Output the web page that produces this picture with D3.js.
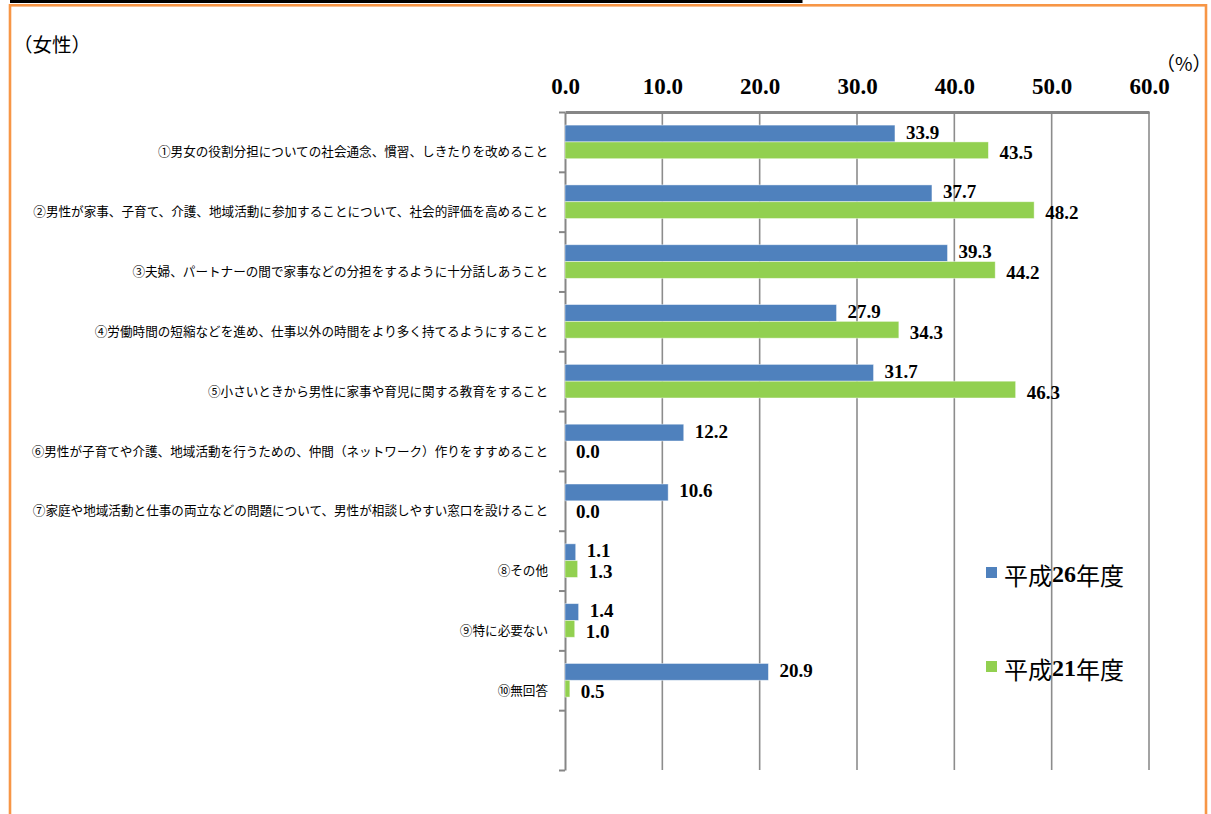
<!DOCTYPE html>
<html>
<head>
<meta charset="utf-8">
<script src="https://cdn.jsdelivr.net/npm/d3@7"></script>
<style>
  body { margin: 0; background: #fff; }
  svg { display: block; }
</style>
</head>
<body>
<svg id="main-svg" width="1211" height="814"></svg>
<script>
// categories (top to bottom); the last slot is left empty like the original
const categories = [
    '①男女の役割分担についての社会通念、慣習、しきたりを改めること',
    '②男性が家事、子育て、介護、地域活動に参加することについて、社会的評価を高めること',
    '③夫婦、パートナーの間で家事などの分担をするように十分話しあうこと',
    '④労働時間の短縮などを進め、仕事以外の時間をより多く持てるようにすること',
    '⑤小さいときから男性に家事や育児に関する教育をすること',
    '⑥男性が子育てや介護、地域活動を行うための、仲間（ネットワーク）作りをすすめること',
    '⑦家庭や地域活動と仕事の両立などの問題について、男性が相談しやすい窓口を設けること',
    '⑧その他',
    '⑨特に必要ない',
    '⑩無回答',
    ''
];

const seriesNames = ['平成26年度', '平成21年度'];
const h26 = [33.9, 37.7, 39.3, 27.9, 31.7, 12.2, 10.6, 1.1, 1.4, 20.9];
const h21 = [43.5, 48.2, 44.2, 34.3, 46.3, 0.0, 0.0, 1.3, 1.0, 0.5];
const xTicks = [0, 10, 20, 30, 40, 50, 60];

const colors = ['#4F81BD', '#92D050'];
const serif = '"Liberation Serif", "DejaVu Serif", serif';
const cjk = '"Noto Sans CJK JP", "Noto Sans", sans-serif';

const svg = d3.select('#main-svg');

// frame: black box edge at the top, orange border around the chart
svg.append('path')
    .attr('d', 'M10,1.5 H801 V-2')
    .attr('fill', 'none')
    .attr('stroke', '#000')
    .attr('stroke-width', 3);
svg.append('rect')
    .attr('x', 10).attr('y', 5.3)
    .attr('width', 1196).attr('height', 900)
    .attr('fill', 'none')
    .attr('stroke', '#F79646')
    .attr('stroke-width', 2.6);

// title and unit
svg.append('text')
    .attr('x', 13).attr('y', 43)
    .attr('dominant-baseline', 'central')
    .style('font-family', cjk).style('font-size', '19.5px')
    .text('（女性）');
svg.append('text')
    .attr('x', 1156).attr('y', 62)
    .attr('dominant-baseline', 'central')
    .style('font-family', cjk).style('font-size', '19px')
    .text('（%）');

// scales
const x = d3.scaleLinear().domain([0, 60]).range([565, 1149]);
const y = d3.scaleBand().domain(d3.range(categories.length)).range([112, 770]).padding(0);
const yLin = d3.scaleLinear().domain([0, categories.length]).range([112, 770]);
const ySub = d3.scaleBand().domain([0, 1]).range([0, y.bandwidth()]).paddingInner(0).paddingOuter(0.78);

// gridlines
svg.append('g')
    .selectAll('line')
    .data(xTicks.slice(1))
    .enter()
    .append('line')
    .attr('x1', d => x(d)).attr('x2', d => x(d))
    .attr('y1', 112).attr('y2', 770)
    .attr('stroke', '#8c8c8c')
    .attr('stroke-width', 1.6);

// top value axis
const xAxis = svg.append('g')
    .attr('transform', 'translate(0,112)')
    .call(d3.axisTop(x).tickValues(xTicks).tickFormat(d3.format('.1f')).tickSize(0).tickPadding(18));
xAxis.select('.domain').attr('stroke', '#868686').attr('stroke-width', 2.8);
xAxis.selectAll('text')
    .style('font-family', serif).style('font-size', '23px').style('font-weight', 'bold')
    .attr('fill', '#000');

// left category axis (ticks at band boundaries)
const yAxis = svg.append('g')
    .attr('transform', 'translate(565,0)')
    .call(d3.axisLeft(yLin).tickValues(d3.range(categories.length + 1)).tickFormat('').tickSize(6).tickSizeOuter(0));
yAxis.select('.domain').attr('stroke', '#868686').attr('stroke-width', 2);
yAxis.selectAll('.tick line').attr('stroke', '#868686').attr('stroke-width', 2);

// category labels
svg.append('g')
    .selectAll('text')
    .data(categories)
    .enter()
    .append('text')
    .attr('x', 548)
    .attr('y', (d, i) => y(i) + y.bandwidth() / 2 + 9)
    .attr('text-anchor', 'end')
    .attr('dominant-baseline', 'central')
    .style('font-family', cjk).style('font-size', '12.6px')
    .text(d => d);

// bars
const series = [h26, h21];
series.forEach((vals, s) => {
    const g = svg.append('g');
    g.selectAll('rect')
        .data(vals)
        .enter()
        .append('rect')
        .attr('x', x(0))
        .attr('y', (d, i) => y(i) + ySub(s))
        .attr('width', d => x(d) - x(0))
        .attr('height', ySub.bandwidth())
        .attr('fill', colors[s])
        .attr('stroke', '#ffffff')
        .attr('stroke-opacity', 0.55)
        .attr('stroke-width', 0.8);
    g.selectAll('text')
        .data(vals)
        .enter()
        .append('text')
        .attr('x', d => x(d) + 11)
        .attr('y', (d, i) => y(i) + ySub(s) + ySub.bandwidth() / 2 + (s === 1 ? 2.5 : -1.5))
        .attr('dominant-baseline', 'central')
        .style('font-family', serif).style('font-size', '19px').style('font-weight', 'bold')
        .text(d => d.toFixed(1));
});

// legend
const legend = svg.append('g')
    .selectAll('g')
    .data(seriesNames)
    .enter()
    .append('g')
    .attr('transform', (d, i) => `translate(986,${567 + i * 94})`);
legend.append('rect')
    .attr('width', 11).attr('height', 11)
    .attr('fill', (d, i) => colors[i]);
const lt = legend.append('text')
    .attr('x', 18).attr('y', 6.5)
    .attr('dominant-baseline', 'central')
    .style('font-size', '24px');
lt.selectAll('tspan')
    .data(d => d.split(/(\d+)/).filter(p => p.length))
    .enter()
    .append('tspan')
    .style('font-family', p => /\d/.test(p) ? serif : cjk)
    .style('font-weight', p => /\d/.test(p) ? 'bold' : 'normal')
    .text(p => p);
</script>
</body>
</html>
